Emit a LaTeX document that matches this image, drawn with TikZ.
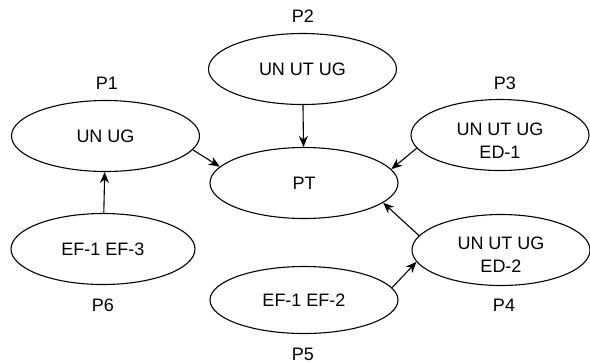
\documentclass[tikz,border=0pt]{standalone}
\usepackage{fontspec}
\setmainfont{Liberation Sans}
\usetikzlibrary{shapes.geometric,arrows.meta}
\tikzset{%
  pnode/.style  = {ellipse, draw, line width=0.55pt, inner sep=0pt,%
                   minimum width=94pt, minimum height=35.5pt, align=center},%
  wnode/.style  = {pnode, minimum width=89pt},%
  plabel/.style = {inner sep=0pt},%
  ptext/.style  = {inner sep=0pt, align=center},%
  flow/.style   = {-{Stealth[length=5.5pt,width=4.5pt]}, line width=0.55pt}%
}
\begin{document}
\begin{tikzpicture}[x=0.5pt, y=-0.5pt,%
  every node/.style = {font=\fontsize{9}{11.5}\selectfont}]%
  \useasboundingbox (0,0) rectangle (590,361);
  % ellipses
  \node [pnode] (P1) at (105.5,136) {UN UG};%
  \node [pnode] (P2) at (302.5,69) {UN UT UG};%
  \node [pnode] (PT) at (304,183) {PT};%
  \node [wnode] (P3) at (500,135) {};%
  \node [wnode] (P4) at (501,250) {};%
  \node [pnode, minimum height=33.5pt] (P5) at (304,300) {EF-1 EF-2};%
  \node [pnode, minimum width=92pt] (P6) at (103,249) {EF-1 EF-3};%
  % two-line texts, a bit below the centre
  \node [ptext] (tP3) at ([yshift=-3pt]P3.center) {UN UT UG\\ED-1};%
  \node [ptext] (tP4) at ([yshift=-2.5pt]P4.center) {UN UT UG\\ED-2};%
  % labels
  \node [plabel] (lP1) at (107,83) {P1};%
  \node [plabel] (lP2) at (303,16) {P2};%
  \node [plabel] (lP3) at (505,83) {P3};%
  \node [plabel] (lP4) at (504,305) {P4};%
  \node [plabel] (lP5) at (303,354) {P5};%
  \node [plabel] (lP6) at (103,305) {P6};%
  % connectors
  \draw [flow] (P2) -- (PT);%
  \draw [flow] (P6) -- (P1);%
  \draw [flow] (P1.-9) -- (PT.169);%
  \draw [flow] (P3.-171) -- (PT.9);%
  \draw [flow] (P4.170) -- (PT.-14);%
  \draw [flow] (P5.8) -- (P4.-172);%
\end{tikzpicture}
\end{document}
